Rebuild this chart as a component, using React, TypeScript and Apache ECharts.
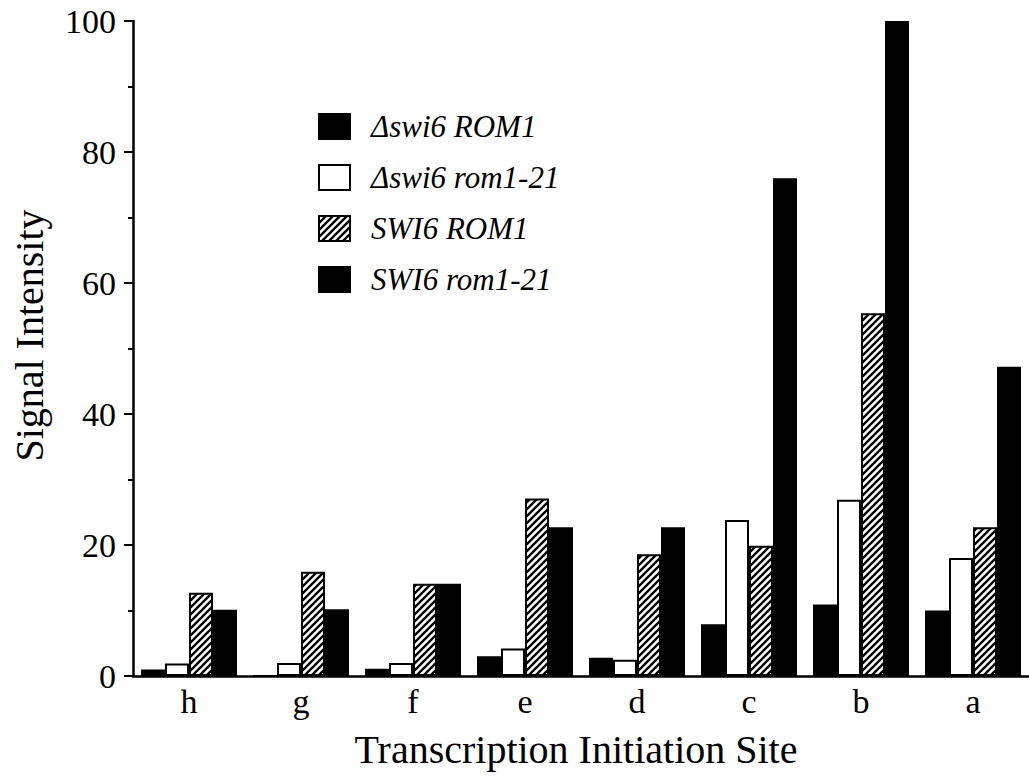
import React, { useEffect, useRef } from "react";
import * as echarts from "echarts";

// Transcription initiation sites, left to right
const sites = ["h", "g", "f", "e", "d", "c", "b", "a"];

// Signal intensity per strain
const deltaSwi6ROM1 = [1.0, 0, 1.1, 3.0, 2.8, 7.9, 10.9, 10.0];
const deltaSwi6Rom1_21 = [1.9, 2.0, 2.0, 4.2, 2.5, 23.8, 26.9, 18.0];
const swi6ROM1 = [12.7, 15.9, 14.1, 27.1, 18.6, 19.9, 55.4, 22.7];
const swi6Rom1_21 = [10.1, 10.2, 14.1, 22.7, 22.7, 76.0, 100, 47.2];

const seriesNames = ["Δswi6 ROM1", "Δswi6 rom1-21", "SWI6 ROM1", "SWI6 rom1-21"];

const yMin = 0;
const yMax = 100;
const yStep = 20;

const FONT = "'Liberation Serif', 'Times New Roman', serif";

function makeHatch(): HTMLCanvasElement {
  const s = 7;
  const c = document.createElement("canvas");
  c.width = s;
  c.height = s;
  const ctx = c.getContext("2d")!;
  ctx.fillStyle = "#fff";
  ctx.fillRect(0, 0, s, s);
  ctx.strokeStyle = "#000";
  ctx.lineWidth = 2.4;
  ctx.beginPath();
  ctx.moveTo(0, s);
  ctx.lineTo(s, 0);
  ctx.moveTo(-1, 1);
  ctx.lineTo(1, -1);
  ctx.moveTo(s - 1, s + 1);
  ctx.lineTo(s + 1, s - 1);
  ctx.stroke();
  return c;
}

export default function App() {
  const ref = useRef<HTMLDivElement>(null);

  useEffect(() => {
    if (!ref.current) return;
    const chart = echarts.init(ref.current, undefined, { renderer: "svg" });
    const hatch = makeHatch();

    const fills: any[] = [
      "#000",
      "#fff",
      { image: hatch, repeat: "repeat" },
      "#000",
    ];
    const values = [deltaSwi6ROM1, deltaSwi6Rom1_21, swi6ROM1, swi6Rom1_21];

    chart.setOption({
      animation: false,
      backgroundColor: "#fff",
      grid: { left: 133, right: 0, top: 21, bottom: 101, containLabel: false },
      legend: {
        orient: "vertical",
        left: 313,
        top: 106,
        itemWidth: 31,
        itemHeight: 25,
        itemGap: 20,
        icon: "rect",
        data: seriesNames,
        textStyle: {
          fontFamily: FONT,
          fontStyle: "italic",
          fontSize: 31,
          lineHeight: 30,
          color: "#000",
          padding: [0, 0, 0, 16],
        },
      },
      xAxis: {
        type: "category",
        data: sites,
        name: "Transcription Initiation Site",
        nameLocation: "middle",
        nameGap: 53,
        nameTextStyle: { fontFamily: FONT, fontSize: 40, color: "#000", padding: [0, 10, 0, 0] },
        axisLine: { lineStyle: { color: "#000", width: 2.5 } },
        axisTick: { alignWithLabel: false, length: 7, lineStyle: { color: "#000", width: 2 } },
        axisLabel: { fontFamily: FONT, fontSize: 34, color: "#000", margin: 8 },
        splitLine: { show: false },
      },
      yAxis: {
        type: "value",
        min: yMin,
        max: yMax,
        interval: yStep,
        name: "Signal Intensity",
        nameLocation: "middle",
        nameGap: 84,
        nameTextStyle: { fontFamily: FONT, fontSize: 40, color: "#000", padding: [0, 0, 0, 26] },
        axisLine: { show: true, lineStyle: { color: "#000", width: 2.5 } },
        axisTick: { show: true, length: 9, lineStyle: { color: "#000", width: 2 } },
        minorTick: { show: true, splitNumber: 2, length: 5, lineStyle: { color: "#000", width: 2 } },
        axisLabel: { fontFamily: FONT, fontSize: 34, color: "#000", margin: 17 },
        splitLine: { show: false },
        minorSplitLine: { show: false },
      },
      series: seriesNames.map((name, i) => ({
        name,
        type: "bar",
        data: values[i],
        barWidth: 24,
        barGap: "0%",
        itemStyle: {
          color: fills[i],
          borderColor: "#000",
          borderWidth: 2,
        },
      })),
    });

    return () => chart.dispose();
  }, []);

  return (
    <div
      ref={ref}
      style={{ position: "absolute", left: 0, top: 0, width: 1029, height: 777 }}
    />
  );
}
